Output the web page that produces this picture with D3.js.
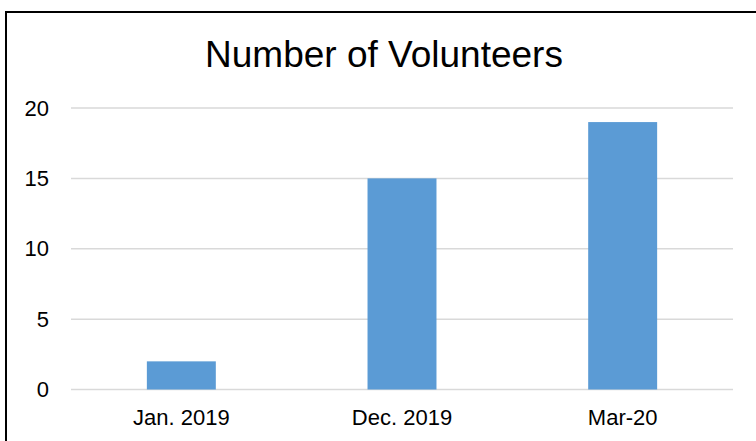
<!DOCTYPE html>
<html>
<head>
<meta charset="utf-8">
<script src="https://cdn.jsdelivr.net/npm/d3@7"></script>
<style>
  body { margin: 0; background: #fff; }
  svg { display: block; font-family: "Liberation Sans", Arial, sans-serif; }
</style>
</head>
<body>
<script>
// 数据
const categories = ['Jan. 2019', 'Dec. 2019', 'Mar-20'];
const volunteers = [2, 15, 19];
const y_ticks = [0, 5, 10, 15, 20];
const chart_title = 'Number of Volunteers';

// 画布大小
const width = 756;
const height = 441;
// 绘图区
const plot = { left: 71, right: 733, top: 108, bottom: 389.5 };

const svg = d3.select('body')
    .append('svg')
    .attr('width', width)
    .attr('height', height);

// 外框（右侧和底部超出画面）
svg.append('rect')
    .attr('x', 6)
    .attr('y', 12)
    .attr('width', 800)
    .attr('height', 500)
    .attr('fill', 'white')
    .attr('stroke', 'black')
    .attr('stroke-width', 2);

const x = d3.scaleBand()
    .domain(categories)
    .range([plot.left, plot.right])
    .paddingInner(0.6875)
    .paddingOuter(0.34375);

const y = d3.scaleLinear()
    .domain([0, 20])
    .range([plot.bottom, plot.top]);

// 网格线
svg.append('g')
    .attr('id', 'grid_g')
    .selectAll('line')
    .data(y_ticks).enter()
    .append('line')
    .attr('x1', plot.left)
    .attr('x2', plot.right)
    .attr('y1', d => y(d))
    .attr('y2', d => y(d))
    .attr('stroke', '#d9d9d9')
    .attr('stroke-width', 1.5);

// 柱子
svg.append('g')
    .attr('id', 'bars_g')
    .selectAll('rect')
    .data(volunteers).enter()
    .append('rect')
    .attr('x', (d, i) => x(categories[i]))
    .attr('y', d => y(d))
    .attr('width', x.bandwidth())
    .attr('height', d => y(0) - y(d))
    .attr('fill', '#5b9bd5');

// y 轴刻度
const y_axis = svg.append('g')
    .attr('transform', `translate(${plot.left},0)`)
    .call(d3.axisLeft(y).tickValues(y_ticks).tickSize(0).tickPadding(22));
y_axis.select('.domain').remove();
y_axis.selectAll('text')
    .attr('font-size', 22)
    .attr('font-family', '"Liberation Sans", Arial, sans-serif')
    .attr('fill', '#000');

// x 轴刻度
const x_axis = svg.append('g')
    .attr('transform', `translate(0,${plot.bottom})`)
    .call(d3.axisBottom(x).tickSize(0).tickPadding(20));
x_axis.select('.domain').remove();
x_axis.selectAll('text')
    .attr('font-size', 22)
    .attr('font-family', '"Liberation Sans", Arial, sans-serif')
    .attr('fill', '#000');

// 标题
svg.append('text')
    .attr('x', 384)
    .attr('y', 67)
    .attr('text-anchor', 'middle')
    .attr('font-size', 37)
    .attr('fill', '#000')
    .text(chart_title);
</script>
</body>
</html>
